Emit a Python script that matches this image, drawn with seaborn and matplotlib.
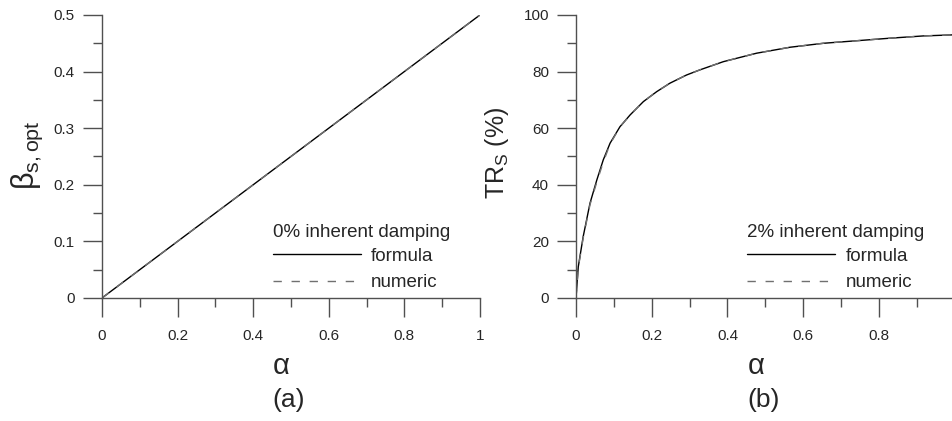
import numpy as np
import matplotlib
matplotlib.use("Agg")
import matplotlib.pyplot as plt
from matplotlib.ticker import MultipleLocator
import seaborn as sns

# panel (a): optimal damping ratio vs mass ratio, 0% inherent damping
alpha_a = [0.0, 0.2, 0.4, 0.6, 0.8, 1.0]
beta_formula = [0.0, 0.1, 0.2, 0.3, 0.4, 0.5]
beta_numeric = [0.0, 0.1, 0.2, 0.3, 0.4, 0.5]

# panel (b): TR_S (%) vs mass ratio, 2% inherent damping
alpha_b = [0.0, 0.006, 0.019, 0.037, 0.055, 0.072, 0.090, 0.116, 0.143,
           0.178, 0.213, 0.248, 0.292, 0.327, 0.389, 0.477, 0.565, 0.653,
           0.741, 0.829, 0.917, 1.0]
tr_formula = [0.0, 11.0, 21.7, 33.5, 41.7, 48.8, 54.7, 60.5, 64.7,
              69.4, 72.9, 75.9, 78.8, 80.6, 83.5, 86.5, 88.6, 90.0,
              90.9, 91.8, 92.6, 93.0]
tr_numeric = [0.0, 10.6, 21.2, 33.0, 41.0, 48.0, 54.4, 60.4, 64.7,
              69.4, 72.9, 75.9, 78.8, 80.6, 83.5, 86.5, 88.6, 90.0,
              90.9, 91.8, 92.6, 93.0]

sns.set_style("ticks")
plt.rcParams['font.family'] = ['Liberation Sans', 'DejaVu Sans']
plt.rcParams['mathtext.fontset'] = 'custom'
plt.rcParams['mathtext.rm'] = 'Liberation Sans'
plt.rcParams['mathtext.it'] = 'Liberation Sans'

fig = plt.figure(figsize=(9.53, 4.21), dpi=100)
ax1 = fig.add_axes([0.1070, 0.2922, 0.3966, 0.6722])
ax2 = fig.add_axes([0.6044, 0.2922, 0.3974, 0.6722])

axis_col = '#505050'


def draw_panel(ax, x, y_formula, y_numeric, title):
    sns.lineplot(x=x, y=y_formula, ax=ax, color='black', linewidth=1.0,
                 label='formula')
    sns.lineplot(x=x, y=y_numeric, ax=ax, color='#707070', linewidth=1.0,
                 linestyle=(0, (6, 7)), label='numeric')
    ax.set_xlim(0, 1)
    ax.set_xticks(np.arange(0, 1.01, 0.2))
    ax.set_xticklabels(['0', '0.2', '0.4', '0.6', '0.8', '1'])
    ax.xaxis.set_minor_locator(MultipleLocator(0.1))
    for s in ['top', 'right']:
        ax.spines[s].set_visible(False)
    for s in ['left', 'bottom']:
        ax.spines[s].set_color(axis_col)
        ax.spines[s].set_linewidth(1.0)
    ax.tick_params(axis='x', which='major', length=13.5, width=1.0,
                   color=axis_col, pad=9, labelsize=11)
    ax.tick_params(axis='x', which='minor', length=6.5, width=1.0, color=axis_col)
    ax.tick_params(axis='y', which='major', length=13.5, width=1.0,
                   color=axis_col, pad=6, labelsize=11)
    ax.tick_params(axis='y', which='minor', length=6.5, width=1.0, color=axis_col)
    ax.set_xlabel('')
    ax.set_ylabel('')
    leg = ax.legend(title=title, loc='upper left', bbox_to_anchor=(0.452, 0.262),
                    frameon=False, fontsize=13.5, title_fontsize=13.5,
                    handlelength=4.7, handletextpad=0.55, labelspacing=0.5,
                    borderpad=0, borderaxespad=0)
    leg._legend_box.align = 'left'
    leg._legend_box.sep = 5
    ax.patch.set_alpha(0)


draw_panel(ax1, alpha_a, beta_formula, beta_numeric, '0% inherent damping')
ax1.set_ylim(0, 0.5)
ax1.set_yticks([0, 0.1, 0.2, 0.3, 0.4, 0.5])
ax1.set_yticklabels(['0', '0.1', '0.2', '0.3', '0.4', '0.5'])
ax1.yaxis.set_minor_locator(MultipleLocator(0.05))

draw_panel(ax2, alpha_b, tr_formula, tr_numeric, '2% inherent damping')
ax2.set_ylim(0, 100)
ax2.yaxis.set_major_locator(MultipleLocator(20))
ax2.yaxis.set_minor_locator(MultipleLocator(10))

# axis labels and panel captions
fig.text(27 / 953, 1 - 155 / 421, r'β$_{\mathrm{s,opt}}$', rotation=90,
         ha='center', va='center', fontsize=22)
fig.text(497 / 953, 1 - 153 / 421, r'TR$_\mathrm{S}$ (%)', rotation=90,
         ha='center', va='center', fontsize=18)
for xc, cap in [(281, '(a)'), (756, '(b)')]:
    fig.text(xc / 953, 1 - 366 / 421, 'α', ha='center', va='center',
             fontsize=21)
    fig.text((xc + 8) / 953, 1 - 400 / 421, cap, ha='center', va='center',
             fontsize=19)

plt.savefig('out.png', dpi=100)
